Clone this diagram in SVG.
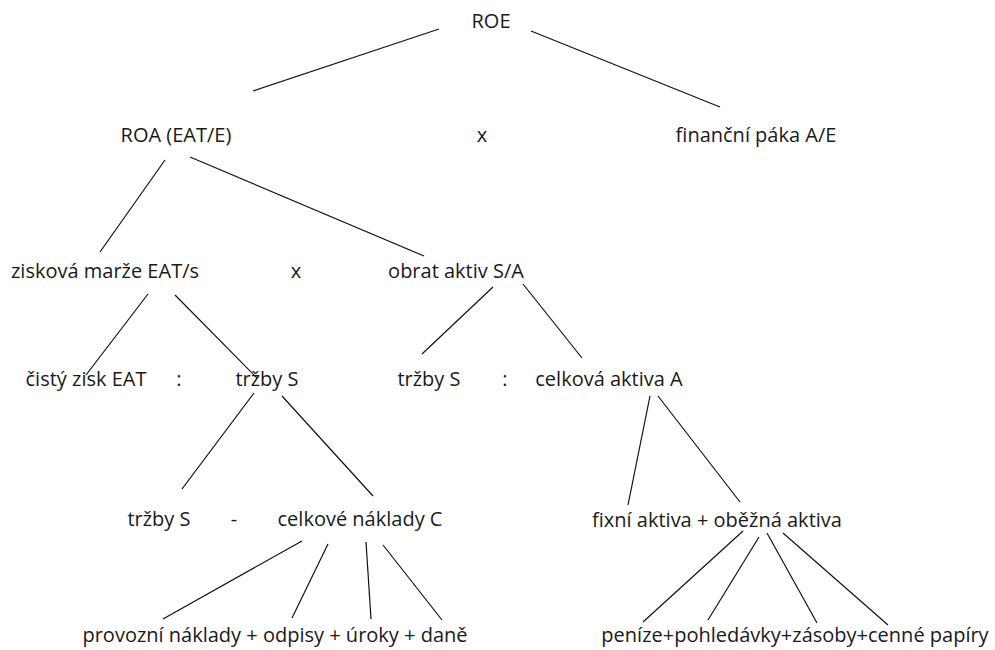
<svg xmlns="http://www.w3.org/2000/svg" width="995" height="650" viewBox="0 0 995 650">
<style>
text{font-family:"Open Sans","Noto Sans","Liberation Sans",sans-serif;font-size:20px;fill:#1a1a1a;text-anchor:middle;font-variant-ligatures:none}
.c line{stroke:#111;stroke-width:1.2}
</style>
<rect width="995" height="650" fill="#fff"/>
<g class="c" id="connectors">
<line x1="439" y1="29" x2="253" y2="91"/>
<line x1="531" y1="31" x2="720" y2="107"/>
<line x1="165" y1="160" x2="100" y2="252"/>
<line x1="190" y1="157" x2="424" y2="256"/>
<line x1="148" y1="294" x2="86" y2="375"/>
<line x1="175" y1="295" x2="257" y2="378"/>
<line x1="493" y1="287" x2="422" y2="354"/>
<line x1="523" y1="284" x2="582" y2="358"/>
<line x1="650" y1="396" x2="628" y2="505"/>
<line x1="658" y1="396" x2="740" y2="502"/>
<line x1="254" y1="393" x2="182" y2="489"/>
<line x1="282" y1="396" x2="373" y2="496"/>
<line x1="302" y1="541" x2="163" y2="619"/>
<line x1="328" y1="544" x2="292" y2="618"/>
<line x1="366" y1="542" x2="371" y2="619"/>
<line x1="383" y1="545" x2="442" y2="620"/>
<line x1="743" y1="531" x2="643" y2="622"/>
<line x1="759" y1="537" x2="708" y2="620"/>
<line x1="767" y1="533" x2="817" y2="623"/>
<line x1="783" y1="533" x2="888" y2="625"/>
</g>
<g id="roe"><text x="491" y="28">ROE</text></g>
<g id="roa"><text x="176" y="142">ROA (EAT/E)</text></g>
<g id="op-x1"><text x="482" y="142">x</text></g>
<g id="financni-paka"><text x="756" y="142">finanční páka A/E</text></g>
<g id="ziskova-marze"><text x="105" y="278">zisková marže EAT/s</text></g>
<g id="op-x2"><text x="296" y="278">x</text></g>
<g id="obrat-aktiv"><text x="456" y="278">obrat aktiv S/A</text></g>
<g id="cisty-zisk"><text x="86" y="386">čistý zisk EAT</text></g>
<g id="op-div1"><text x="179" y="386">:</text></g>
<g id="trzby1"><text x="267" y="386">tržby S</text></g>
<g id="trzby2"><text x="429" y="386">tržby S</text></g>
<g id="op-div2"><text x="505" y="386">:</text></g>
<g id="celkova-aktiva"><text x="609" y="386">celková aktiva A</text></g>
<g id="trzby3"><text x="159" y="526">tržby S</text></g>
<g id="op-minus"><text x="234" y="526">-</text></g>
<g id="celkove-naklady"><text x="360" y="526">celkové náklady C</text></g>
<g id="fixni-obezna"><text x="717" y="527">fixní aktiva + oběžná aktiva</text></g>
<g id="naklady-slozky"><text x="275" y="642">provozní náklady + odpisy + úroky + daně</text></g>
<g id="aktiva-slozky"><text x="795" y="642">peníze+pohledávky+zásoby+cenné papíry</text></g>
</svg>
